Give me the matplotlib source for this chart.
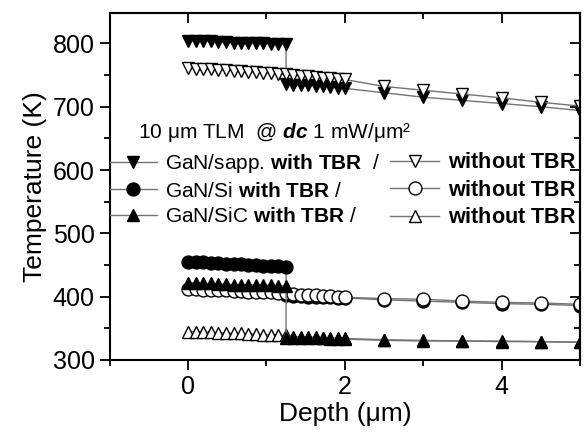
import numpy as np
import matplotlib
matplotlib.use('Agg')
import matplotlib.pyplot as plt

plt.rcParams['font.family'] = ['Liberation Sans', 'DejaVu Sans']
plt.rcParams['mathtext.fontset'] = 'custom'
plt.rcParams['mathtext.rm'] = 'Liberation Sans'
plt.rcParams['mathtext.it'] = 'Liberation Sans:italic'
plt.rcParams['mathtext.bf'] = 'Liberation Sans:bold'
plt.rcParams['mathtext.bfit'] = 'Liberation Sans:italic:bold'

# depth grid (um)
x_seg1 = [0, 0.1, 0.19, 0.29, 0.38, 0.48, 0.58, 0.67, 0.77, 0.87, 0.96, 1.06, 1.15, 1.25]
x_seg2 = [1.25, 1.34, 1.44, 1.53, 1.63, 1.72, 1.81, 1.91, 2.0]
x_far = [2.5, 3.0, 3.5, 4.0, 4.5, 5.0]

# GaN/sapphire
sapp_tbr_1 = [804, 804, 803, 803, 802, 802, 801, 801, 801, 800, 800, 799, 799, 799]
sapp_tbr_2 = [736, 735, 734, 734, 733, 732, 731, 730, 729]
sapp_tbr_far = [722, 715, 710, 705, 700, 694]
sapp_no_1 = [761, 760, 760, 759, 758, 758, 757, 756, 755, 755, 754, 753, 752, 751]
sapp_no_2 = [750, 749, 748, 747, 746, 745, 744, 743]
sapp_no_far = [732, 726, 720, 714, 707, 701]

# GaN/Si
si_tbr_1 = [455, 454, 454, 453, 453, 452, 451, 451, 450, 450, 449, 448, 448, 447]
si_tbr_2 = [402, 401, 401, 400, 400, 399, 399, 398, 398]
si_tbr_far = [395, 393, 391, 389, 388, 386]
si_no_1 = [412, 412, 411, 411, 410, 410, 409, 409, 408, 408, 407, 407, 406, 406]
si_no_2 = [404, 403, 403, 402, 401, 401, 400, 399]
si_no_far = [397, 396, 393, 391, 390, 388]

# GaN/SiC
sic_tbr_1 = [422, 422, 421, 421, 420, 420, 419, 419, 419, 418, 418, 418, 417, 417]
sic_tbr_2 = [335, 335, 335, 334, 334, 334, 333, 333, 333]
sic_tbr_far = [331, 330, 330, 329, 329, 328]
sic_no_1 = [345, 345, 344, 344, 343, 343, 342, 342, 341, 341, 340, 340, 339, 339]
sic_no_2 = [337, 337, 336, 336, 335, 335, 334, 334]
sic_no_far = [332, 331, 330, 330, 329, 328]

x_tbr = x_seg1 + x_seg2 + x_far
x_no = x_seg1 + x_seg2[1:] + x_far

fig = plt.figure(figsize=(5.84, 4.33), dpi=100)
ax = fig.add_axes([0.188, 0.1686, 0.805, 0.8014])

line_kw = dict(color='0.45', lw=1.0, ms=9.3, mec='black', mew=1.0)
full = dict(mfc='black', **line_kw)
hollow = dict(mfc='white', **line_kw)

h_sapp_tbr, = ax.plot(x_tbr, sapp_tbr_1 + sapp_tbr_2 + sapp_tbr_far, marker='v', **full)
h_sapp_no, = ax.plot(x_no, sapp_no_1 + sapp_no_2 + sapp_no_far, marker='v', **hollow)
h_si_tbr, = ax.plot(x_tbr, si_tbr_1 + si_tbr_2 + si_tbr_far, marker='o', **full)
h_si_no, = ax.plot(x_no, si_no_1 + si_no_2 + si_no_far, marker='o', **hollow)
h_sic_no, = ax.plot(x_no, sic_no_1 + sic_no_2 + sic_no_far, marker='^', **hollow)
h_sic_tbr, = ax.plot(x_tbr, sic_tbr_1 + sic_tbr_2 + sic_tbr_far, marker='^', **full)

ax.set_xlim(-1, 5)
ax.set_ylim(300, 848)
ax.set_xticks([0, 2, 4])
ax.set_xticks([-1, 1, 3, 5], minor=True)
ax.set_yticks([300, 400, 500, 600, 700, 800])
ax.set_yticks([350, 450, 550, 650, 750], minor=True)

for s in ax.spines.values():
    s.set_linewidth(1.5)
ax.tick_params(which='major', direction='out', length=7, width=1.3, labelsize=18, pad=4)
ax.tick_params(which='minor', direction='out', length=4, width=1.3)

top = ax.secondary_xaxis('top')
top.set_xticks([0, 2, 4])
top.set_xticks([-1, 1, 3, 5], minor=True)
top.tick_params(which='major', direction='in', length=7, width=1.3, labeltop=False)
top.tick_params(which='minor', direction='in', length=4, width=1.3)
right = ax.secondary_yaxis('right')
right.set_yticks([300, 400, 500, 600, 700, 800])
right.set_yticks([350, 450, 550, 650, 750], minor=True)
right.tick_params(which='major', direction='in', length=7, width=1.3, labelright=False)
right.tick_params(which='minor', direction='in', length=4, width=1.3)
for sa in (top, right):
    for s in sa.spines.values():
        s.set_linewidth(1.5)

ax.set_xlabel('Depth (\u03bcm)', fontsize=19, labelpad=2)
ax.set_ylabel('Temperature (K)', fontsize=19, labelpad=4)

ax.text(0.06, 0.655, '10 \u03bcm TLM  @ $\\mathbfit{dc}$ 1 mW/\u03bcm\u00b2',
        transform=ax.transAxes, fontsize=15, va='center', ha='left')

leg_kw = dict(loc='upper left', frameon=False, numpoints=1, handlelength=2.25,
              handletextpad=0.4, labelspacing=0.31, borderpad=0, borderaxespad=0)
leg1 = ax.legend([h_sapp_tbr, h_si_tbr, h_sic_tbr],
                 ['GaN/sapp. $\\mathbf{with\\ TBR}$  /',
                  'GaN/Si $\\mathbf{with\\ TBR}$ /',
                  'GaN/SiC $\\mathbf{with\\ TBR}$ /'],
                 bbox_to_anchor=(0.0, 0.599), fontsize=15, **leg_kw)
ax.add_artist(leg1)
ax.legend([h_sapp_no, h_si_no, h_sic_no],
          ['$\\mathbf{without\\ TBR}$'] * 3,
          bbox_to_anchor=(0.597, 0.599), fontsize=15.5, **leg_kw)

fig.savefig('out.png', dpi=100)
